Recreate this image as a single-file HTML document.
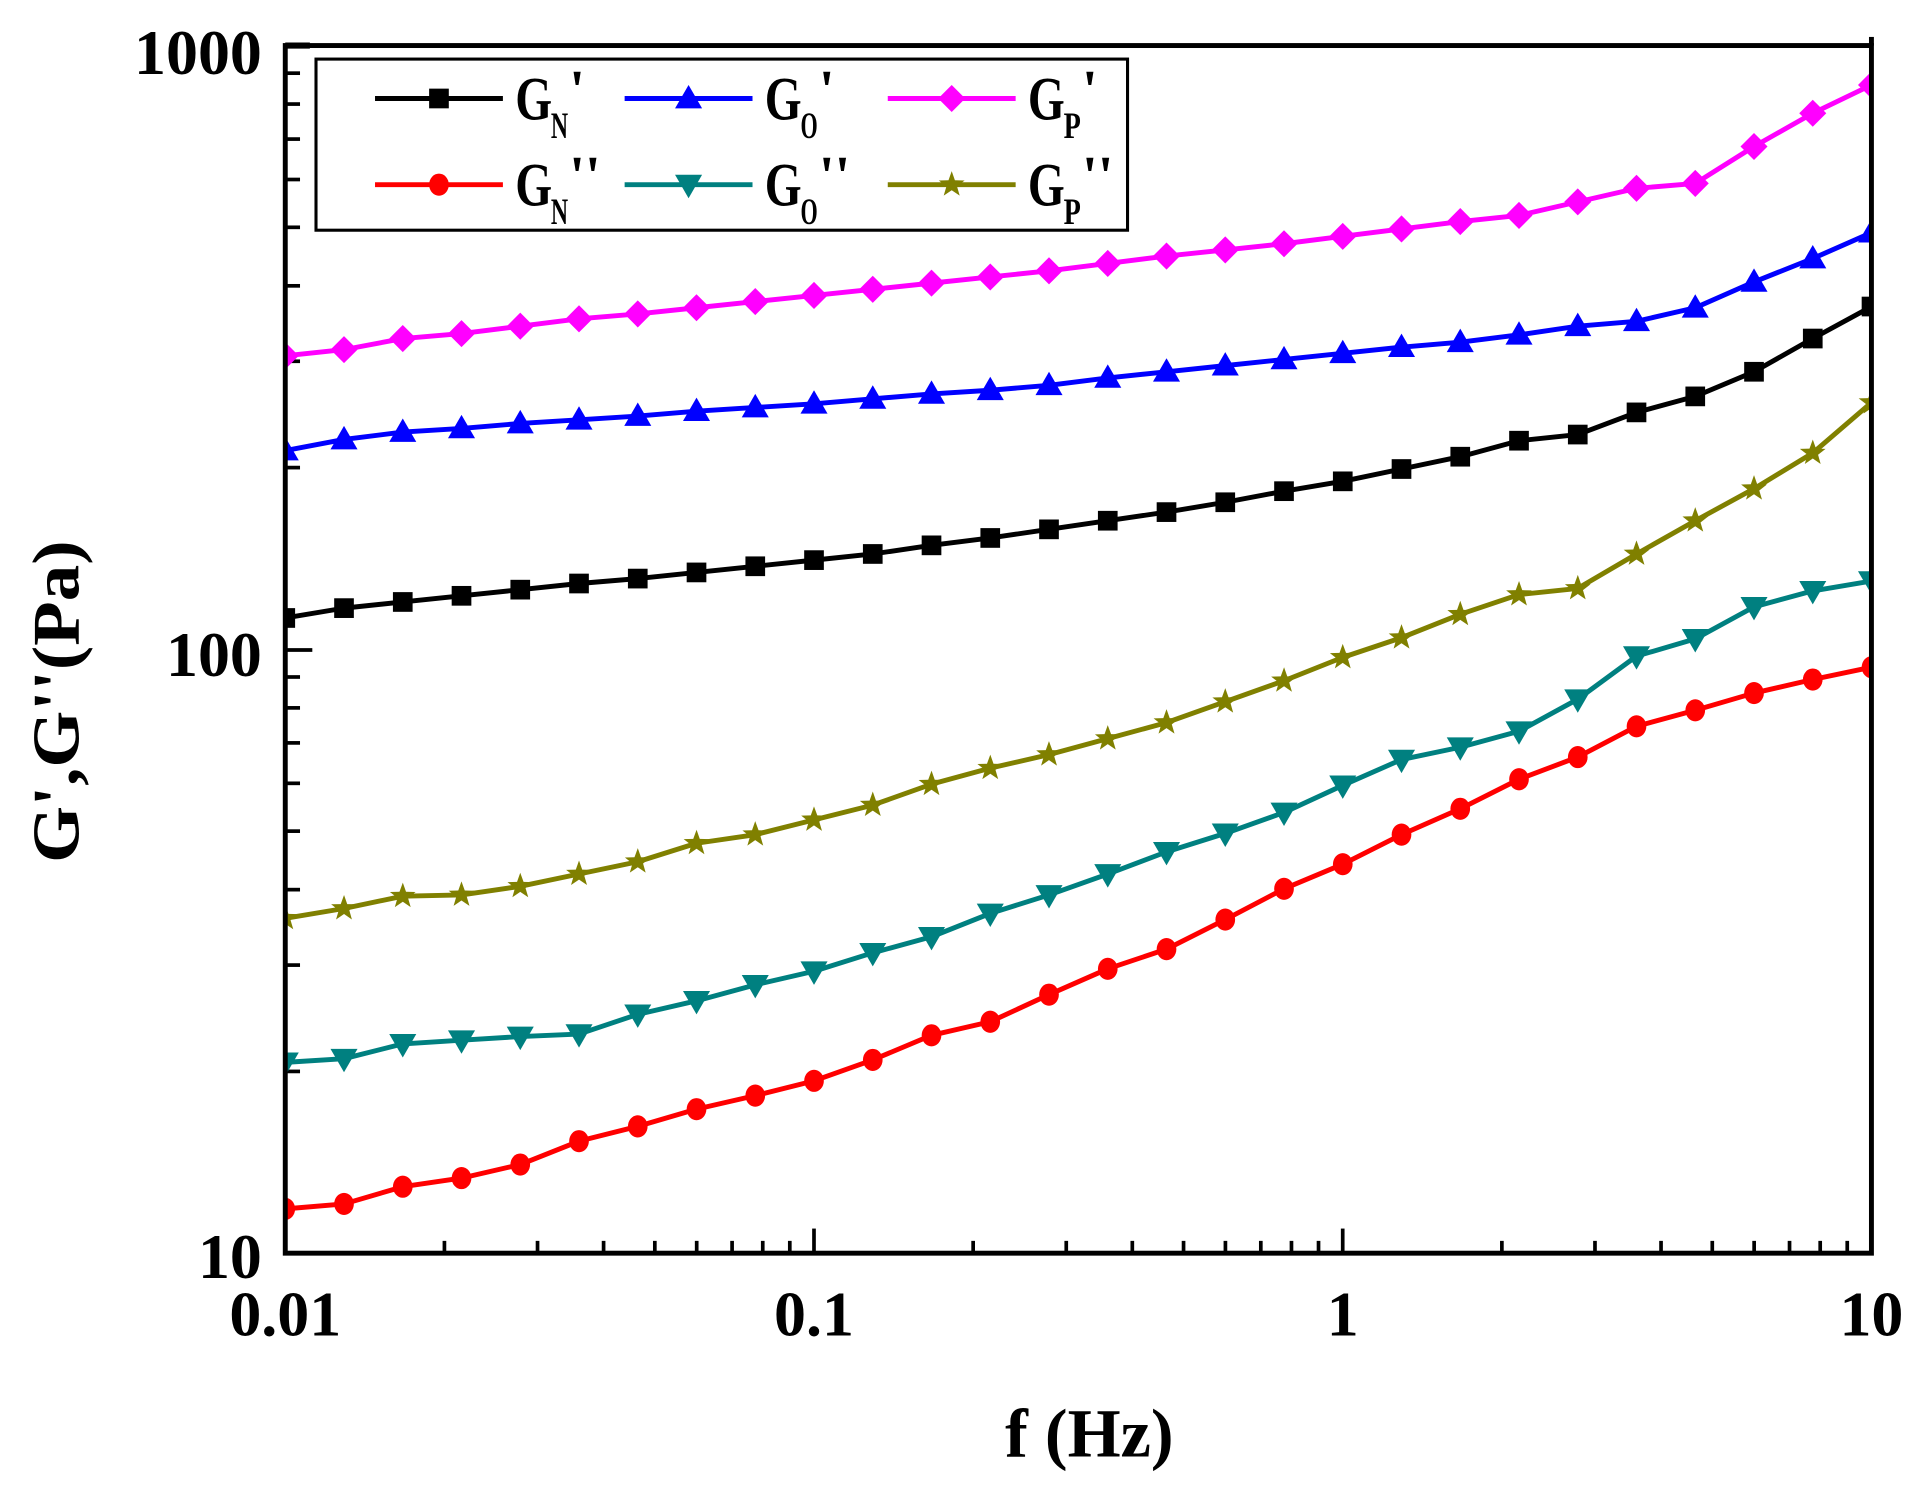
<!DOCTYPE html>
<html><head><meta charset="utf-8"><style>html,body{margin:0;padding:0;background:#fff}svg{display:block}</style></head>
<body>
<svg id="s" width="1928" height="1492" viewBox="0 0 1568 1212" preserveAspectRatio="none" xmlns="http://www.w3.org/2000/svg" font-family="'Liberation Serif',serif" font-weight="bold">
<defs><clipPath id="c"><rect x="232" y="37" width="1290" height="981"/></clipPath></defs>
<g id="ticks" stroke="#000" stroke-width="3"></g>
<g id="series" clip-path="url(#c)"></g>
<rect x="232" y="37" width="1290" height="981" fill="none" stroke="#000" stroke-width="4"/>
<line x1="1522" y1="30" x2="1522" y2="37" stroke="#000" stroke-width="4"/>
<line x1="232" y1="37" x2="252" y2="37" stroke="#000" stroke-width="5"/>
<g font-size="52" text-anchor="end">
<text x="213" y="60">1000</text><text x="213" y="549">100</text><text x="213" y="1038">10</text>
</g>
<g font-size="52" text-anchor="middle">
<text x="232" y="1085">0.01</text><text x="662" y="1085">0.1</text><text x="1092" y="1085">1</text><text x="1522" y="1085">10</text>
</g>
<text x="886" y="1183" font-size="56" text-anchor="middle" textLength="137" lengthAdjust="spacingAndGlyphs">f (Hz)</text>
<text transform="translate(64,570) rotate(-90)" font-size="54" text-anchor="middle" textLength="262" lengthAdjust="spacingAndGlyphs">G',G''(Pa)</text>
<rect x="257" y="48" width="660" height="139" fill="#fff" stroke="#000" stroke-width="2.5"/>
<g id="leg"></g>
</svg>
<script>
const NS="http://www.w3.org/2000/svg";
function el(p,t,a){const e=document.createElementNS(NS,t);for(const k in a)e.setAttribute(k,a[k]);p.appendChild(e);return e;}
const tk=document.getElementById('ticks');
for(let d=0;d<3;d++){for(let m=2;m<=9;m++){const x=232+430*(d+Math.log10(m));el(tk,'line',{x1:x,x2:x,y1:1018,y2:1008});}}
for(let d=1;d<3;d++){const x=232+430*d;el(tk,'line',{x1:x,x2:x,y1:1018,y2:998});}
for(let d=0;d<2;d++){for(let m=2;m<=9;m++){const y=1018-490.5*(d+Math.log10(m));el(tk,'line',{x1:232,x2:244,y1:y,y2:y});}}
el(tk,'line',{x1:232,x2:254,y1:528,y2:528});
const S=[
["#ff00ff","dia",[289,284,275,271,265,259,255,250,245,240,235,230,225,220,214,208,203,198,192,186,180,175,164,153,149,119,92,69]],
["#0000ff","tri",[366,357,351,348,344,341,338,334,331,328,324,320,317,313,307,302,297,292,287,282,278,272,265,261,250,229,210,189]],
["#000000","sq",[502,494,489,484,479,474,470,465,460,455,450,443,437,430,423,416,408,399,391,381,371,358,353,335,322,302,275,249]],
["#808000","star",[746,738,728,727,720,710,700,685,678,666,654,637,624,613,600,587,570,553,534,518,499,483,478,450,423,397,368,327]],
["#008080","tri2",[863,860,848,845,842,840,824,813,800,789,774,761,742,727,710,692,677,660,638,617,607,594,568,533,519,493,480,472]],
["#ff0000","circ",[982,978,964,957,946,927,915,901,890,878,861,841,830,808,787,771,747,722,702,678,657,633,615,590,577,563,552,542]]];
function marker(g,type,x,y,c){
 if(type=="sq")el(g,'rect',{x:x-8,y:y-8,width:16,height:16,fill:c});
 else if(type=="tri")el(g,'polygon',{points:`${x},${y-11} ${x+11},${y+8} ${x-11},${y+8}`,fill:c});
 else if(type=="tri2")el(g,'polygon',{points:`${x},${y+11} ${x+11},${y-8} ${x-11},${y-8}`,fill:c});
 else if(type=="dia")el(g,'polygon',{points:`${x},${y-11} ${x+11},${y} ${x},${y+11} ${x-11},${y}`,fill:c});
 else if(type=="circ")el(g,'ellipse',{cx:x,cy:y,rx:8,ry:9,fill:c});
 else {let p=[];for(let i=0;i<10;i++){const r=i%2?4.5:11,a=-Math.PI/2+i*Math.PI/5;p.push((x+r*Math.cos(a)).toFixed(1)+','+(y+r*Math.sin(a)).toFixed(1));}el(g,'polygon',{points:p.join(' '),fill:c});}
}
const sg=document.getElementById('series');
for(const [c,t,ys] of S){
 const pts=ys.map((y,i)=>[232+47.78*i,y]);
 el(sg,'polyline',{points:pts.map(p=>p.join(',')).join(' '),fill:'none',stroke:c,'stroke-width':4,'stroke-linejoin':'round'});
 for(const p of pts)marker(sg,t,p[0],p[1],c);
}
const lg=document.getElementById('leg');
const L=[["#000000","sq",305,80,"N","'"],["#0000ff","tri",508,80,"O","'"],["#ff00ff","dia",722,80,"P","'"],
["#ff0000","circ",305,150,"N","''"],["#008080","tri2",508,150,"O","''"],["#808000","star",722,150,"P","''"]];
for(const [c,t,x,y,sub,pr] of L){
 el(lg,'line',{x1:x,x2:x+104,y1:y,y2:y,stroke:c,'stroke-width':4});
 marker(lg,t,x+52,y,c);
 const tx=el(lg,'text',{x:x+114,y:y+17,'font-size':50,textLength:30,lengthAdjust:'spacingAndGlyphs'});tx.textContent='G';
 const s1=el(lg,'text',{x:x+143,y:y+32,'font-size':30,textLength:14,lengthAdjust:'spacingAndGlyphs'});s1.textContent=sub;
 const s2=el(lg,'text',{x:x+158,y:y+8,'font-size':46});s2.textContent=pr;
}
</script>
</body></html>
